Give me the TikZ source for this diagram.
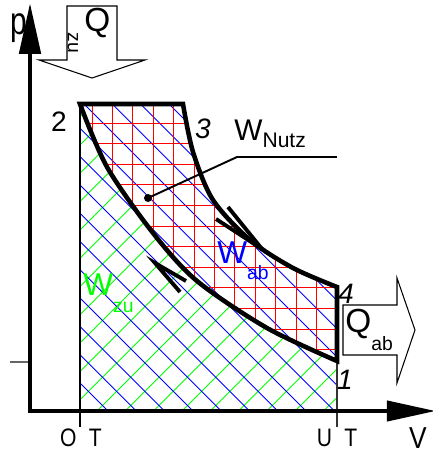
\documentclass[tikz,border=0pt]{standalone}
\usepackage{fontspec}
\setmainfont{Liberation Sans}
\usetikzlibrary{arrows.meta,positioning}

\newcommand{\fs}[1]{\fontsize{#1}{#1}\selectfont}

\begin{document}
\begin{tikzpicture}[x=0.02cm, y=-0.02cm,
  axis/.style={line width=2.7pt, line join=miter},
  cyc/.style={line width=2.6pt},
  guide/.style={line width=0.6pt},
  hatchb/.style={blue, line width=0.5pt},
  hatchg/.style={green, line width=0.5pt},
  redgrid/.style={red, line width=0.5pt},
  turn/.style={line width=2.2pt},
  flow/.style={line width=0.6pt},
  lbl/.style={inner sep=0pt, anchor=base west},
  num/.style={inner sep=0pt, font=\fs{16}\itshape},
]
  \useasboundingbox (0,0) rectangle (433,451);

  \coordinate (o) at (30,411);
  \coordinate (ptop) at (30,3);
  \coordinate (vend) at (436,411);
  \coordinate (c2) at (80,104);
  \coordinate (c3) at (183,104);
  \coordinate (c4) at (337,287);
  \coordinate (c1) at (337,361);
  \coordinate (ot) at (80,427);
  \coordinate (ut) at (337,427);
  \coordinate (tickl) at (10,362);
  \coordinate (tickr) at (30,362);

  \begin{scope}
    \clip (80,411) -- (337,411) -- (c1)
      -- plot[smooth] coordinates {(337,361) (267,328) (197,281) (153,233) (107,167) (80,104)}
      -- cycle;
    \foreach \k in {-12,...,9}
      \draw[hatchg] ({97+28.3*\k},411) -- ++(330,-330);
  \end{scope}
  \begin{scope}
    \clip (c2) -- (c3)
      -- plot[smooth] coordinates {(183,104) (193,152) (213,200) (250,240) (293,268) (337,287)}
      -- (337,411) -- (80,411) -- cycle;
    \foreach \k in {-1,...,20}
      \draw[hatchb] ({108+28.3*\k},411) -- ++(-330,-330);
  \end{scope}
  \begin{scope}
    \clip (c2) -- (c3)
      -- plot[smooth] coordinates {(183,104) (193,152) (213,200) (250,240) (293,268) (337,287)}
      -- (c1)
      -- plot[smooth] coordinates {(337,361) (267,328) (197,281) (153,233) (107,167) (80,104)}
      -- cycle;
    \foreach \i in {0,...,12}
      \draw[redgrid] ({92+20.4*\i},100) -- ++(0,265);
    \foreach \j in {-1,...,12}
      \draw[redgrid] (78,{123+20.6*\j}) -- ++(262,0);
  \end{scope}

  \draw[guide] (c2) -- (ot);
  \draw[guide, black!80] (c1) -- (ut);
  \draw[guide, black!60] (tickl) -- (tickr);

  \draw[cyc] (c2) -- (c3)
    -- plot[smooth] coordinates {(183,104) (193,152) (213,200) (250,240) (293,268) (337,287)}
    -- (c1)
    -- plot[smooth] coordinates {(337,361) (267,328) (197,281) (153,233) (107,167) (80,104)}
    -- cycle;

  \draw[axis, {Triangle[length=29pt, width=12pt]}-{Triangle[length=28pt, width=11.3pt]}]
    (ptop) -- (o) -- (vend);

  \draw[turn] (228,207) -- (262,249) -- (216,219);
  \draw[turn] (180,292) -- (155,263) -- (186,281);

  \draw[flow, fill=white] (67,6) -- (117,6) -- (117,60) -- (145,60) -- (92,78)
    -- (39,60) -- (67,60) -- cycle;
  \draw[flow, fill=white] (343,305) -- (397,305) -- (397,278) -- (415,330)
    -- (397,383) -- (397,355) -- (343,355) -- cycle;

  \coordinate (dot) at (148,198);
  \coordinate (kink) at (237,157);
  \coordinate (lend) at (337,157);
  \fill (dot) circle (4);
  \draw[line width=1.1pt] (dot) -- (kink) -- (lend);

  \node[lbl, font=\fs{17}] (wnutz) at (234,140) {W\raisebox{-4.5pt}{\fs{12}Nutz}};
  \node[lbl, font=\fs{18}, text=blue] (wab) at (217,263) {W\raisebox{-9.6pt}{\fs{11}ab}};
  \node[lbl, font=\fs{18}, text=green] (wzu) at (83,295) {W\raisebox{-10.2pt}{\fs{11}zu}};
  \node[lbl, font=\fs{19}] (qab) at (345,332) {Q\raisebox{-10.5pt}{\fs{11}ab}};
  \node[lbl, font=\fs{19}] (qzu) at (84,31) {Q};
  \node[inner sep=0pt, font=\fs{11}, rotate=-90] (qzusub) at (73,43) {zu};

  \node[inner sep=0pt, font=\fs{16}] (n2) at (59,122) {2};
  \node[num] (n3) at (203,129) {3};
  \node[num] (n4) at (346,294) {4};
  \node[num] (n1) at (345,380) {1};

  \node[inner sep=0pt, font=\fs{17}] (plbl) at (19,28) {\scalebox{1}[1.3]{p}};
  \node[inner sep=0pt, font=\fs{15}] (vlbl) at (418,438) {\scalebox{1}[1.15]{V}};
  \node[inner sep=0pt, font=\fs{12}] (otl) at (81,438) {\scalebox{1}[1.2]{O\hspace{7pt}T}};
  \node[inner sep=0pt, font=\fs{12}] (utl) at (337,438) {\scalebox{1}[1.2]{U\hspace{7pt}T}};
\end{tikzpicture}
\end{document}
